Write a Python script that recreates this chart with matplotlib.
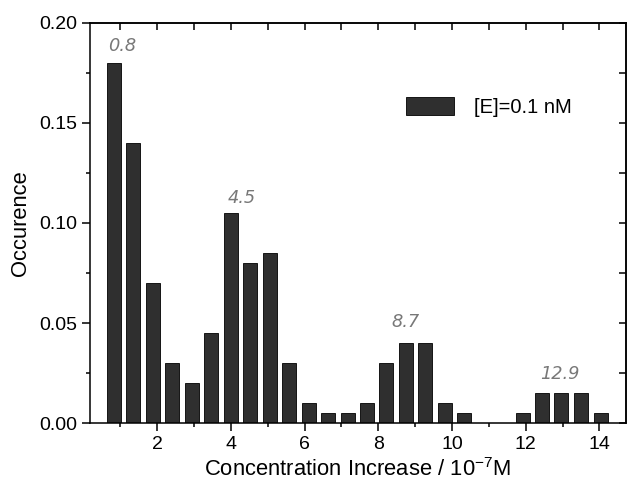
import matplotlib
matplotlib.use("Agg")
import matplotlib.pyplot as plt
from matplotlib.ticker import MultipleLocator

plt.rcParams["font.family"] = ["Liberation Sans", "DejaVu Sans"]

# bin centres (10^-7 M) and occurrence
centers = [0.83, 1.36, 1.89, 2.41, 2.94, 3.47, 4.00, 4.53, 5.05, 5.58,
           6.11, 6.64, 7.17, 7.69, 8.22, 8.75, 9.28, 9.81, 10.33,
           11.92, 12.45, 12.97, 13.50, 14.03]
occurence = [0.18, 0.14, 0.07, 0.03, 0.02, 0.045, 0.105, 0.08, 0.085, 0.03,
             0.01, 0.005, 0.005, 0.01, 0.03, 0.04, 0.04, 0.01, 0.005,
             0.005, 0.015, 0.015, 0.015, 0.005]

# peak labels: text, x, y
peak_text = ["0.8", "4.5", "8.7", "12.9"]
peak_x = [1.06, 4.3, 8.75, 12.92]
peak_y = [0.1885, 0.1125, 0.0505, 0.0245]

fig = plt.figure(figsize=(6.28, 4.82), dpi=100)
ax = fig.add_axes([0.1433, 0.1224, 0.8535, 0.8299])

ax.bar(centers, occurence, width=0.38, color="#2f2f2f", edgecolor="black",
       linewidth=0.6, label="[E]=0.1 nM")

for t, x, y in zip(peak_text, peak_x, peak_y):
    ax.text(x, y, t, ha="center", va="center", color="#787878",
            fontsize=12.8, style="oblique", family="DejaVu Sans")

ax.set_xlim(0.18, 14.72)
ax.set_ylim(0, 0.2)
ax.xaxis.set_major_locator(MultipleLocator(2))
ax.xaxis.set_minor_locator(MultipleLocator(1))
ax.yaxis.set_major_locator(MultipleLocator(0.05))
ax.yaxis.set_minor_locator(MultipleLocator(0.025))
ax.yaxis.set_major_formatter(plt.FormatStrFormatter("%.2f"))

ax.tick_params(which="both", direction="out", labelsize=14, width=1.1,
               pad=3.5)
ax.tick_params(which="major", length=5.8)
ax.tick_params(which="minor", length=3.2)
# mirrored ticks on top and right, pointing in
ax2 = ax.secondary_xaxis("top")
ax2.xaxis.set_major_locator(MultipleLocator(1))
ax2.tick_params(direction="in", length=5, width=1.1, labeltop=False)
ax3 = ax.secondary_yaxis("right")
ax3.yaxis.set_major_locator(MultipleLocator(0.025))
ax3.tick_params(direction="in", length=5, width=1.1, labelright=False)
for sp in list(ax.spines.values()) + [ax2.spines["top"], ax3.spines["right"]]:
    sp.set_linewidth(1.1)

ax.set_xlabel(r"Concentration Increase / 10$^{\mathregular{-7}}$M",
              fontsize=15.8, labelpad=4)
ax.set_ylabel("Occurence", fontsize=15.8, labelpad=6)

ax.legend(loc="center left", bbox_to_anchor=(0.555, 0.79), frameon=False,
          fontsize=14.5, handlelength=2.4, handleheight=1.0,
          handletextpad=1.0)

fig.savefig("out.png", dpi=100)
